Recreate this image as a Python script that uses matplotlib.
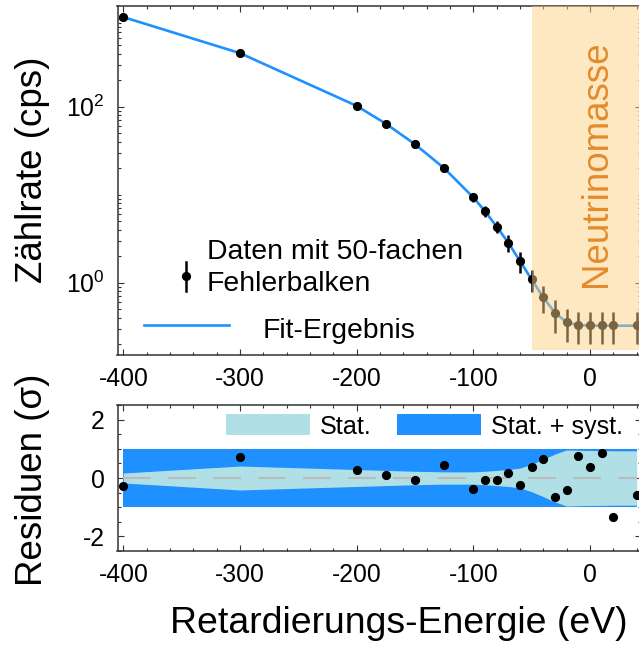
import matplotlib
matplotlib.use('Agg')
import matplotlib.pyplot as plt
from matplotlib.lines import Line2D
from matplotlib.patches import Patch
from matplotlib.ticker import MultipleLocator, FixedLocator, NullFormatter

plt.rcParams['font.family'] = ['Liberation Sans', 'DejaVu Sans']
plt.rcParams['mathtext.fontset'] = 'custom'
plt.rcParams['mathtext.rm'] = 'Liberation Sans'
plt.rcParams['mathtext.it'] = 'Liberation Sans:italic'
plt.rcParams['mathtext.bf'] = 'Liberation Sans:bold'
plt.rcParams['axes.unicode_minus'] = False

# ---------------- data ----------------
energy = [-400, -300, -200, -175, -150, -125, -100, -90, -80, -70, -60,
          -50, -40, -30, -20, -10, 0, 10, 20, 40]
rate = [1040, 405, 102, 64, 37.4, 20.0, 9.3, 6.5, 4.33, 2.85, 1.76,
        1.09, 0.68, 0.456, 0.355, 0.33, 0.33, 0.33, 0.33, 0.33]
rate_err50 = [5, 3.5, 2.0, 1.8, 1.6, 1.4, 1.0, 0.9, 0.7, 0.6, 0.47,
              0.31, 0.23, 0.185, 0.145, 0.13, 0.13, 0.13, 0.13, 0.13]
fit_rate = [1040, 405, 102, 64, 37.4, 20.0, 9.3, 6.5, 4.33, 2.85, 1.76,
            1.09, 0.68, 0.456, 0.355, 0.33, 0.325, 0.325, 0.325, 0.325]
residuals = [-0.26, 0.72, 0.28, 0.10, -0.06, 0.45, -0.38, -0.08, -0.08, 0.16,
             -0.24, 0.38, 0.66, -0.64, -0.40, 0.74, 0.37, 0.85, -1.34, -0.57]
stat_band = [0.17, 0.41, 0.29, 0.26, 0.23, 0.21, 0.21, 0.23, 0.26, 0.29,
             0.34, 0.47, 0.64, 0.82, 0.96, 0.95, 0.94, 0.94, 0.93, 0.93]
syst_band = [1.0] * len(energy)
neutrino_region = (-49.5, 44)

x_ticks = [-400, -300, -200, -100, 0]
y_ticks_top = [1, 100]
y_ticklabels_top = [r'$10^{0}$', r'$10^{2}$']
y_ticks_res = [-2, 0, 2]

blue = '#1E90FF'
light = '#B0E0E6'
spine_c = '#333333'

W, H = 639, 646
fig = plt.figure(figsize=(W / 100, H / 100), dpi=100)


def rect(l, r, t, b):
    return [l / W, 1 - b / H, (r - l) / W, (b - t) / H]


ax1 = fig.add_axes(rect(117.5, 641.3, 6, 355))
ax2 = fig.add_axes(rect(117.5, 641.3, 405, 551))

TICK_FS = 17.8

for ax in (ax1, ax2):
    for s in ax.spines.values():
        s.set_linewidth(1.1)
        s.set_color(spine_c)
    ax.set_xlim(-405, 44)
    ax.xaxis.set_major_locator(FixedLocator(x_ticks))
    ax.xaxis.set_minor_locator(MultipleLocator(20))
    ax.tick_params(which='both', direction='in', top=True, right=True,
                   color=spine_c, width=0.8, labelsize=TICK_FS)
    ax.tick_params(which='major', length=4.5)
    ax.tick_params(which='minor', length=2.3)
    ax.tick_params(axis='x', pad=9)
    ax.tick_params(axis='y', pad=9)

# ---------------- top panel ----------------
ax1.set_yscale('log')
ax1.set_ylim(0.151, 1390)
ax1.plot(energy, fit_rate, color=blue, lw=1.9, zorder=2)
ax1.errorbar(energy, rate, yerr=rate_err50, fmt='o', color='black', ms=5.6,
             elinewidth=1.8, capsize=0, zorder=3)
ax1.axvspan(neutrino_region[0], neutrino_region[1], ymin=0.015, ymax=1,
            facecolor='#FBD084', alpha=0.49, lw=0, zorder=4)
ax1.text((606 - 117.5) / 523.8, (355 - 164) / 349, 'Neutrinomasse',
         transform=ax1.transAxes, rotation=90, rotation_mode='anchor',
         ha='center', va='baseline', fontsize=26.5, color='#E38B2C', zorder=5)

ax1.yaxis.set_major_locator(FixedLocator(y_ticks_top))
ax1.set_yticklabels(y_ticklabels_top)
minor_y = [k * 10.0 ** e for e in (-1, 0, 1, 2, 3) for k in range(1, 10)
           if k * 10.0 ** e not in (1.0, 100.0)]
ax1.yaxis.set_minor_locator(FixedLocator(minor_y))
ax1.yaxis.set_minor_formatter(NullFormatter())

# legend (drawn manually to mimic the layout)
LEG_FS = 20.4
ax1.add_line(Line2D([0.131, 0.131], [0.183, 0.266], color='black', lw=1.8,
                    transform=ax1.transAxes))
ax1.add_line(Line2D([0.131], [0.226], marker='o', ms=5.6, color='black',
                    transform=ax1.transAxes))
ax1.text(0.171, 0.2765, 'Daten mit 50-fachen', transform=ax1.transAxes,
         fontsize=LEG_FS, va='baseline', ha='left')
ax1.text(0.171, 0.1837, 'Fehlerbalken', transform=ax1.transAxes,
         fontsize=LEG_FS, va='baseline', ha='left')
ax1.add_line(Line2D([0.0506, 0.2129], [0.087, 0.087], color=blue, lw=1.9,
                    transform=ax1.transAxes))
ax1.text(0.277, 0.0476, 'Fit-Ergebnis', transform=ax1.transAxes,
         fontsize=LEG_FS, va='baseline', ha='left')

ax1.set_ylabel('Zählrate (cps)', fontsize=26.5)
ax1.yaxis.set_label_coords((50 - 117.5) / 523.8, (355 - 170) / 349)

# ---------------- residual panel ----------------
ax2.set_ylim(-2.5, 2.5)
ax2.fill_between(energy, [-v for v in syst_band], syst_band, color=blue,
                 lw=0, zorder=1)
ax2.fill_between(energy, [-v for v in stat_band], stat_band, color=light,
                 lw=0, zorder=2)
ax2.plot([energy[0], energy[-1]], [0, 0], color='#BBBBBB', lw=1.5,
         dashes=(13.4, 8.2), zorder=3)
ax2.plot(energy, residuals, 'o', color='black', ms=5.6, zorder=4)
ax2.yaxis.set_major_locator(FixedLocator(y_ticks_res))
ax2.yaxis.set_minor_locator(MultipleLocator(0.5))

handles = [Patch(facecolor=light, edgecolor='none', label='Stat.'),
           Patch(facecolor=blue, edgecolor='none', label='Stat. + syst.')]
ax2.legend(handles=handles, ncol=2, frameon=False, fontsize=18.1,
           handlelength=3.35, handleheight=0.9, handletextpad=0.4,
           columnspacing=1.0, borderpad=0, borderaxespad=0,
           loc='center left', bbox_to_anchor=(0.207, 0.853))

ax2.set_ylabel('Residuen (σ)', fontsize=26.5)
ax2.yaxis.set_label_coords((50 - 117.5) / 523.8, (551 - 480) / 146)
ax2.set_xlabel('Retardierungs-Energie (eV)', fontsize=26.9)
ax2.xaxis.set_label_coords((399 - 117.5) / 523.8, (551 - 606) / 146)

fig.savefig('out.png', dpi=100)
